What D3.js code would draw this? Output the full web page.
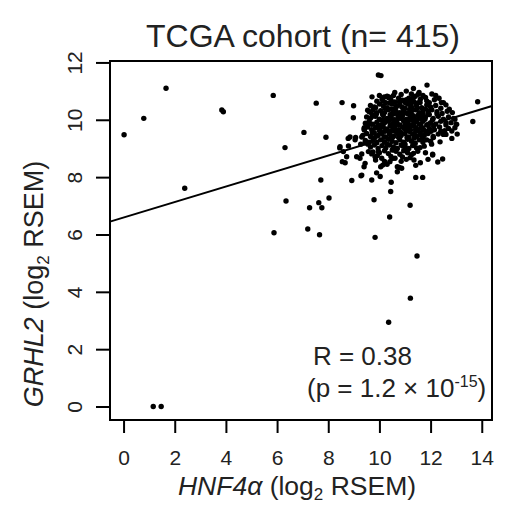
<!DOCTYPE html>
<html>
<head>
<meta charset="utf-8">
<script src="https://cdn.jsdelivr.net/npm/d3@7"></script>
<style>
  body { margin: 0; background: #fff; }
  svg text { font-family: "Liberation Sans", Arial, sans-serif; fill: #222; }
  .axis line { stroke: #000; stroke-width: 2; }
  .axis path { display: none; }
</style>
</head>
<body>
<svg id="chart" width="508" height="506"></svg>
<script>
"use strict"

// ticks
const xTicks = [0, 2, 4, 6, 8, 10, 12, 14];
const yTicks = [0, 2, 4, 6, 8, 10, 12];

// fitted line (GRHL2 = a + b * HNF4a)
const fitIntercept = 6.59;
const fitSlope = 0.27;

// isolated samples
const outlierPts = [
  [0.02,9.48],[0.79,10.05],[1.66,11.1],[3.84,10.34],[3.9,10.28],[2.39,7.61],
  [5.85,10.85],[6.31,9.03],[6.35,7.17],[5.88,6.06],[1.16,0.0],[1.47,0.0],
  [7.2,6.19],[7.66,5.99],[9.96,11.56],[10.06,11.54],[7.53,10.58],[8.54,10.6],
  [8.99,10.49],[8.98,10.07],[7.05,9.56],[7.91,9.39],[13.84,10.63],[13.65,9.94],
  [11.33,11.09],[11.86,11.21],[7.71,7.9],[8.92,7.88],[9.28,8.05],[9.7,7.9],
  [10.03,8.02],[10.46,7.82],[10.44,7.5],[8.03,7.27],[7.63,7.11],[7.27,6.93],
  [7.75,6.93],[9.79,7.21],[11.2,7.02],[10.4,6.61],[9.83,5.9],[11.42,7.99],
  [11.69,7.99],[11.42,8.41],[10.78,8.34],[10.7,8.19],[8.45,9.02],[8.59,8.89],
  [8.72,8.71],[8.55,8.54],[8.66,8.5],[8.78,9.35],[9.05,9.3],[12.28,8.53],
  [12.47,8.63],[12.83,9.35],[13.04,9.5],[12.08,8.77],[10.87,8.31],[11.47,5.25],
  [11.21,3.78],[10.36,2.94],[9.71,10.8],[10.19,10.8],[10.37,10.8],[9.54,10.33],
  [9.85,10.42],[9.71,10.19],[9.76,10.13],[9.41,9.72],[9.41,9.64],[8.85,9.4],
  [9.07,9.38],[9.31,9.4],[8.46,9.06],[8.79,9.09],[9.27,9.15],[9.44,9.2],
  [9.7,9.84],[9.83,9.38],[12.33,10.75],[12.73,10.37],[12.95,10.02],[13.02,9.84],
  [12.95,9.72],[12.83,9.61],[12.5,9.49],[12.6,9.49],[12.11,9.38],[12.37,9.23],
  [12.04,9.15],[11.59,9.03],[11.33,8.83],[11.07,8.97],[12.08,8.8],[10.91,9.09],
  [11.33,10.77],[11.52,10.89],[11.2,10.66],[11.59,10.6],[11.85,10.66],
  [9.11,8.71],[9.24,8.66],[9.31,8.81],[9.44,8.48],[9.4,8.36],[9.31,8.07],
  [9.57,8.89],[9.7,8.81],[9.83,8.71],[9.96,8.89],[10.09,8.66],[10.13,8.42],
  [10.05,8.36],[10.41,8.54],[10.54,8.95],[10.61,8.66],[10.7,8.36],[9.89,8.15]
];

// dense cloud around HNF4a ~ 11, GRHL2 ~ 9.8
const corePts = [
  [10.3,10.82],[10.6,10.95],[10.85,10.88],[11.05,11.0],[11.25,10.9],[11.55,10.95],[11.7,10.85],[12.05,10.9],[10.0,10.85],[11.4,10.82],
  [9.9,10.65],[10.1,10.72],[10.25,10.6],[10.45,10.7],[10.6,10.62],[10.75,10.75],[10.9,10.68],[11.05,10.7],[11.35,10.62],[11.6,10.72],[11.95,10.6],[12.15,10.7],[12.5,10.6],[10.35,10.78],[11.8,10.78],
  [9.65,10.5],[9.8,10.45],[10.0,10.55],[10.15,10.48],[10.3,10.42],[10.5,10.55],[10.65,10.45],[10.8,10.52],[10.95,10.4],[11.1,10.55],[11.25,10.45],[11.45,10.5],[11.65,10.42],[11.85,10.52],[12.0,10.45],[12.2,10.5],[12.4,10.4],[12.6,10.52],[10.4,10.58],[11.0,10.6],
  [9.6,10.28],[9.75,10.35],[9.9,10.25],[10.05,10.32],[10.2,10.25],[10.35,10.35],[10.5,10.22],[10.65,10.3],[10.8,10.25],[10.95,10.33],[11.1,10.22],[11.25,10.3],[11.4,10.35],[11.55,10.25],[11.7,10.3],[11.9,10.22],[12.05,10.35],[12.25,10.28],[12.45,10.22],[12.65,10.3],[12.85,10.25],[10.45,10.38],[11.0,10.4],[11.8,10.38],
  [9.5,10.1],[9.65,10.05],[9.85,10.12],[10.0,10.02],[10.15,10.15],[10.3,10.05],[10.45,10.12],[10.6,10.0],[10.75,10.1],[10.9,10.15],[11.05,10.02],[11.2,10.12],[11.35,10.05],[11.5,10.15],[11.65,10.02],[11.8,10.1],[11.95,10.18],[12.1,10.05],[12.3,10.12],[12.5,10.02],[12.7,10.1],[12.9,10.05],[10.55,10.2],[11.25,10.18],[11.7,10.2],[10.2,9.98],
  [9.45,9.88],[9.6,9.95],[9.75,9.85],[9.9,9.92],[10.05,9.82],[10.2,9.9],[10.35,9.95],[10.5,9.85],[10.65,9.92],[10.8,9.82],[10.95,9.95],[11.1,9.88],[11.25,9.8],[11.4,9.92],[11.55,9.85],[11.7,9.95],[11.85,9.82],[12.0,9.9],[12.2,9.85],[12.4,9.95],[12.6,9.82],[12.8,9.9],[13.0,9.85],[10.1,9.98],[10.7,10.0],[11.3,9.98],
  [9.4,9.68],[9.55,9.75],[9.7,9.65],[9.85,9.72],[10.0,9.62],[10.15,9.75],[10.3,9.68],[10.45,9.6],[10.6,9.72],[10.75,9.65],[10.9,9.75],[11.05,9.62],[11.2,9.7],[11.35,9.78],[11.5,9.65],[11.65,9.72],[11.8,9.6],[11.95,9.7],[12.15,9.65],[12.35,9.75],[12.55,9.62],[12.7,9.7],[10.5,9.78],[11.1,9.8],[9.95,9.8],[10.4,9.55],
  [9.35,9.45],[9.5,9.52],[9.65,9.42],[9.8,9.55],[9.95,9.45],[10.1,9.52],[10.25,9.4],[10.4,9.5],[10.55,9.42],[10.7,9.55],[10.85,9.45],[11.0,9.52],[11.15,9.4],[11.3,9.5],[11.45,9.42],[11.6,9.55],[11.75,9.45],[11.9,9.52],[12.1,9.42],[12.3,9.5],[10.05,9.58],[10.6,9.6],[11.2,9.58],[11.9,9.58],
  [9.45,9.28],[9.6,9.22],[9.75,9.3],[9.9,9.2],[10.05,9.3],[10.2,9.22],[10.35,9.32],[10.5,9.25],[10.65,9.2],[10.8,9.3],[10.95,9.22],[11.1,9.32],[11.25,9.25],[11.4,9.18],[11.55,9.3],[11.7,9.22],[11.85,9.3],[12.0,9.25],[10.75,9.38],[11.35,9.36],
  [9.65,9.05],[9.8,9.12],[9.95,9.0],[10.1,9.1],[10.25,9.02],[10.4,9.12],[10.55,9.05],[10.7,9.0],[10.85,9.12],[11.0,9.05],[11.15,9.0],[11.3,9.1],[11.45,9.02],[11.75,9.08],[10.3,9.15],[11.0,9.15],
  [9.75,8.88],[10.0,8.85],[10.2,8.92],[10.35,8.82],[10.65,8.9],[10.8,8.8],[10.95,8.92],[11.1,8.85],[11.25,8.78],[11.5,8.9],[11.8,8.85],[10.5,8.95],
  [9.85,8.6],[10.2,8.55],[10.5,8.65],[10.85,8.55],[11.05,8.62],[11.35,8.6],[11.6,8.5],[10.3,8.45],[11.9,8.62],
  [10.22,10.4],[10.58,10.38],[10.88,10.44],[11.18,10.36],[11.48,10.4],[10.12,10.2],[10.42,10.18],[10.72,10.16],[11.02,10.24],[11.32,10.14],
  [11.62,10.12],[11.92,10.3],[10.28,10.0],[10.58,9.96],[10.88,10.04],[11.18,9.98],[11.48,10.0],[11.78,10.02],[12.08,10.0],[10.12,9.82],
  [10.42,9.8],[10.72,9.84],[11.02,9.86],[11.32,9.84],[11.62,9.82],[11.92,9.85],[10.22,9.6],[10.52,9.66],[10.82,9.58],[11.12,9.64],
  [11.42,9.6],[11.72,9.66],[12.02,9.6],[10.18,9.4],[10.48,9.36],[10.78,9.44],[11.08,9.38],[11.38,9.46],[11.68,9.36],[10.32,9.62],
  [10.62,9.82],[10.92,10.22],[11.22,10.5],[11.52,10.6],[10.78,10.62],[10.48,10.02],[11.42,9.72],[11.58,9.48],[10.02,9.68],[9.88,10.2],
  [10.98,9.7],[11.28,10.62],[10.68,10.48],[12.12,9.78],[12.25,10.2],[9.72,9.55],[9.58,9.85],[11.05,8.95],[10.45,8.72],[10.9,8.7],
  [11.2,8.68],[9.92,8.75],[9.55,9.15],[12.4,9.6],[12.6,9.9],[12.42,10.6],[12.2,10.85],[10.15,10.65],[10.55,10.85],[11.15,10.75]
];

const svg = d3.select("#chart");

// plot box
const x = d3.scaleLinear().domain([-0.53, 14.4]).range([110, 492]);
const y = d3.scaleLinear().domain([-0.47, 12.05]).range([420, 61]);

// x axis
const gx = svg.append("g")
    .attr("class", "axis")
    .attr("transform", "translate(0,421)")
    .call(d3.axisBottom(x).tickValues(xTicks).tickSize(12).tickFormat(d3.format("d")));
gx.selectAll("text")
    .attr("y", 44)
    .attr("dy", null)
    .style("font-size", "21px");

// y axis, labels turned like R's las=0
const gy = svg.append("g")
    .attr("class", "axis")
    .attr("transform", "translate(109,0)")
    .call(d3.axisLeft(y).tickValues(yTicks).tickSize(13).tickFormat(d3.format("d")));
gy.selectAll("text")
    .attr("x", null)
    .attr("dy", null)
    .attr("text-anchor", "middle")
    .attr("transform", "translate(-27,0) rotate(-90)")
    .style("font-size", "21px");

// points
const allPts = outlierPts.concat(corePts);
svg.append("g")
    .selectAll("circle")
    .data(allPts)
    .join("circle")
    .attr("cx", d => x(d[0]))
    .attr("cy", d => y(d[1]))
    .attr("r", 2.7)
    .attr("fill", "#000");

// regression line across the box
const [x0, x1] = x.domain();
svg.append("line")
    .attr("x1", x(x0)).attr("y1", y(fitIntercept + fitSlope * x0))
    .attr("x2", x(x1)).attr("y2", y(fitIntercept + fitSlope * x1))
    .attr("stroke", "#000")
    .attr("stroke-width", 2);

svg.append("rect")
    .attr("x", 110).attr("y", 61)
    .attr("width", 382).attr("height", 359)
    .attr("fill", "none")
    .attr("stroke", "#000")
    .attr("stroke-width", 2);

// title
svg.append("text")
    .attr("x", 303).attr("y", 47)
    .attr("text-anchor", "middle")
    .style("font-size", "32px")
    .text("TCGA cohort (n= 415)");

// axis titles
const xt = svg.append("text")
    .attr("x", 297).attr("y", 495)
    .attr("text-anchor", "middle")
    .style("font-size", "26.5px");
xt.append("tspan").style("font-style", "italic").text("HNF4α");
xt.append("tspan").text(" (log");
xt.append("tspan").attr("dy", 5).style("font-size", "17px").text("2");
xt.append("tspan").attr("dy", -5).text(" RSEM)");

const yt = svg.append("text")
    .attr("transform", "translate(43,284) rotate(-90)")
    .attr("text-anchor", "middle")
    .style("font-size", "27px");
yt.append("tspan").style("font-style", "italic").text("GRHL2");
yt.append("tspan").text(" (log");
yt.append("tspan").attr("dy", 6).style("font-size", "17px").text("2");
yt.append("tspan").attr("dy", -6).text(" RSEM)");

// correlation note
svg.append("text")
    .attr("x", x(7.4)).attr("y", y(1.45))
    .style("font-size", "26px")
    .text("R = 0.38");

const pt = svg.append("text")
    .attr("x", x(7.17)).attr("y", y(0.33))
    .style("font-size", "26px");
pt.append("tspan").text("(p = 1.2 × 10");
pt.append("tspan").attr("dy", -10).style("font-size", "16px").text("-15");
pt.append("tspan").attr("dy", 10).text(")");
</script>
</body>
</html>
